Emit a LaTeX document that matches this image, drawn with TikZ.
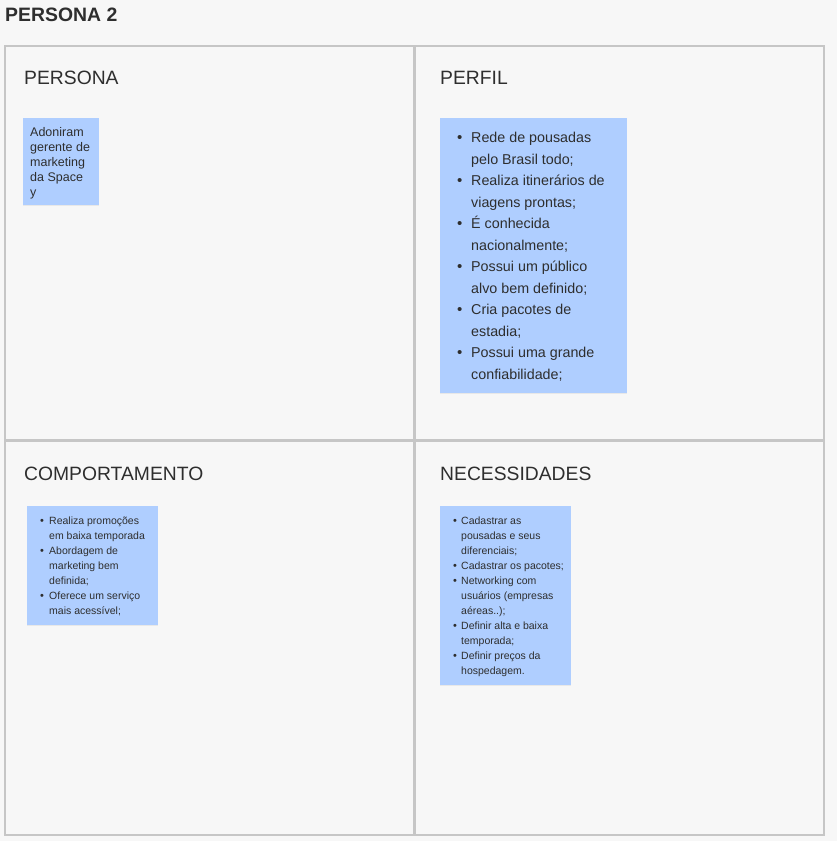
\documentclass[tikz,border=0pt]{standalone}
\usepackage{fontspec}
\usepackage{graphicx}
\setmainfont{Liberation Sans}
\usetikzlibrary{shadows}
\definecolor{bg}{HTML}{F7F7F7}
\definecolor{frame}{HTML}{C6C6C6}
\definecolor{note}{HTML}{AFCEFF}
\definecolor{ink}{HTML}{2E2E2E}
\newcommand{\bl}[1]{\makebox[#1][l]{\raisebox{-0.05ex}{\scalebox{1.05}{\textbullet}}}}
\tikzset{
  panel/.style={draw=frame, line width=1.3pt, fill=bg},
  heading/.style={anchor=base west, inner sep=0pt, text=ink, font=\fontsize{19.3}{23}\selectfont},
  sticky/.style={fill=note, draw=none, anchor=north west, inner sep=0pt,
    drop shadow={opacity=0.12, shadow xshift=0pt, shadow yshift=-1pt}},
  notetext/.style={anchor=north west, inner sep=0pt, text=ink, align=left}
}
\begin{document}
\begin{tikzpicture}[x=1pt,y=-1pt]
\useasboundingbox[fill=bg] (0,0) rectangle (837,841);
\node[anchor=base west, inner sep=0pt, text=ink, font=\fontsize{19.4}{23}\selectfont\bfseries] (title) at (5,21) {PERSONA 2};

\draw[panel] (5,46) rectangle (414,440);
\draw[panel] (415,46) rectangle (824,440);
\draw[panel] (5,441) rectangle (414,835);
\draw[panel] (415,441) rectangle (824,835);

\node[heading] (h1) at (24,84) {PERSONA};
\node[heading] (h2) at (440,84) {PERFIL};
\node[heading] (h3) at (24,480) {COMPORTAMENTO};
\node[heading] (h4) at (440,480) {NECESSIDADES};

% Persona sticky
\node[sticky, minimum width=76pt, minimum height=87pt] (s1) at (23,118) {};
\node[notetext, font=\fontsize{12.5}{15}\selectfont] (t1) at (30,125.8) {%
\begin{tabular}{@{}l@{}}Adoniram\\gerente de\\marketing\\da Space\\y\end{tabular}};

% Perfil sticky
\node[sticky, minimum width=187pt, minimum height=275pt] (s2) at (440,118) {};
\node[notetext, font=\fontsize{14.3}{21.5}\selectfont] (t2) at (457,127.3) {%
\begin{tabular}{@{}l@{}l@{}}
\bl{14pt} & Rede de pousadas\\ & pelo Brasil todo;\\
\bl{14pt} & Realiza itinerários de\\ & viagens prontas;\\
\bl{14pt} & É conhecida\\ & nacionalmente;\\
\bl{14pt} & Possui um público\\ & alvo bem definido;\\
\bl{14pt} & Cria pacotes de\\ & estadia;\\
\bl{14pt} & Possui uma grande\\ & confiabilidade;
\end{tabular}};

% Comportamento sticky
\node[sticky, minimum width=131pt, minimum height=119pt] (s3) at (27,506) {};
\node[notetext, font=\fontsize{10.5}{15}\selectfont] (t3) at (40,513.5) {%
\begin{tabular}{@{}l@{}l@{}}
\bl{9pt} & Realiza promoções\\ & em baixa temporada\\
\bl{9pt} & Abordagem de\\ & marketing bem\\ & definida;\\
\bl{9pt} & Oferece um serviço\\ & mais acessível;
\end{tabular}};

% Necessidades sticky
\node[sticky, minimum width=131pt, minimum height=179pt] (s4) at (440,506) {};
\node[notetext, font=\fontsize{10.5}{15}\selectfont] (t4) at (453,513.5) {%
\begin{tabular}{@{}l@{}l@{}}
\bl{8pt} & Cadastrar as\\ & pousadas e seus\\ & diferenciais;\\
\bl{8pt} & Cadastrar os pacotes;\\
\bl{8pt} & Networking com\\ & usuários (empresas\\ & aéreas..);\\
\bl{8pt} & Definir alta e baixa\\ & temporada;\\
\bl{8pt} & Definir preços da\\ & hospedagem.
\end{tabular}};
\end{tikzpicture}
\end{document}
